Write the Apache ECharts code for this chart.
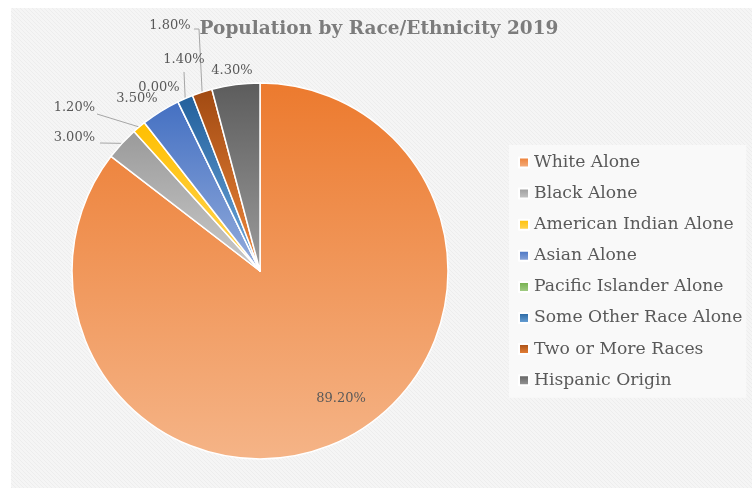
<!DOCTYPE html>
<html>
<head>
<meta charset="utf-8">
<script src="https://cdn.jsdelivr.net/npm/echarts@6/dist/echarts.min.js"></script>
<style>
  html, body { margin: 0; padding: 0; background: #ffffff; }
  #chart { width: 752px; height: 488px; }
</style>
</head>
<body>
<div id="chart"></div>
<script>
// Population shares by race / ethnicity, 2019 (percent)
const categories = [
  'White Alone',
  'Black Alone',
  'American Indian Alone',
  'Asian Alone',
  'Pacific Islander Alone',
  'Some Other Race Alone',
  'Two or More Races',
  'Hispanic Origin'
];
const shares = [89.2, 3.0, 1.2, 3.5, 0.0, 1.4, 1.8, 4.3];
const chartTitle = 'Population by Race/Ethnicity 2019';

// Slice fills: vertical gradients, darker at the top
const sliceGradients = [
  ['#ec7a2e', '#f5b487'],
  ['#9a9a9a', '#cacaca'],
  ['#ffbf00', '#ffd65c'],
  ['#4470c2', '#93acdc'],
  ['#6fac46', '#a9d18e'],
  ['#22609c', '#70a8dc'],
  ['#a14a12', '#f0883c'],
  ['#5c5c5c', '#9c9c9c']
];

// Hand-placed label spots (px) and optional leader-line bends
const labelSpots = [
  { x: 341, y: 399, align: 'center', line: false },
  { x: 95,  y: 138, align: 'right',  line: true, end: [100, 143] },
  { x: 95,  y: 108, align: 'right',  line: true, end: [97, 114] },
  { x: 137, y: 99,  align: 'center', line: false },
  { x: 159, y: 88,  align: 'center', line: false },
  { x: 184, y: 60,  align: 'center', line: true, end: [184, 72] },
  { x: 170, y: 26,  align: 'center', line: true, bend: [199, 29], end: [194, 29] },
  { x: 232, y: 71,  align: 'center', line: false }
];

const SERIF = 'DejaVu Serif';

// Fine diagonal hatch for the chart area
function hatchPattern() {
  const c = document.createElement('canvas');
  c.width = 4; c.height = 4;
  const g = c.getContext('2d');
  g.fillStyle = '#f5f5f5';
  g.fillRect(0, 0, 4, 4);
  g.fillStyle = '#ededed';
  for (let i = 0; i < 4; i++) g.fillRect(i, i, 1, 1);
  return c;
}

function grad(pair) {
  return new echarts.graphic.LinearGradient(0, 0, 0, 1, [
    { offset: 0, color: pair[0] },
    { offset: 1, color: pair[1] }
  ]);
}

const chart = echarts.init(document.getElementById('chart'), null, { renderer: 'canvas' });

const seriesData = categories.map((name, i) => ({
  name: name,
  value: shares[i],
  itemStyle: { color: grad(sliceGradients[i]) },
  labelLine: { show: labelSpots[i].line }
}));

chart.setOption({
  animation: false,
  backgroundColor: '#ffffff',
  textStyle: { fontFamily: SERIF },
  graphic: [{
    type: 'rect',
    z: -10,
    silent: true,
    shape: { x: 11, y: 8, width: 741, height: 480 },
    style: { fill: { image: hatchPattern(), repeat: 'repeat' } }
  }],
  title: {
    text: chartTitle,
    left: 374,
    top: 15,
    textAlign: 'center',
    textStyle: {
      fontFamily: SERIF,
      fontWeight: 'bold',
      fontSize: 18.5,
      color: '#7c7c7c'
    }
  },
  legend: {
    orient: 'vertical',
    left: 509,
    top: 145,
    padding: [9, 4, 9, 9],
    backgroundColor: '#f9f9f9',
    itemWidth: 10,
    itemHeight: 10,
    itemGap: 14.1,
    icon: 'rect',
    data: categories,
    textStyle: {
      fontFamily: SERIF,
      fontSize: 17.2,
      color: '#595959'
    }
  },
  series: [{
    type: 'pie',
    center: [260, 271],
    radius: 188,
    startAngle: 90,
    clockwise: true,
    avoidLabelOverlap: false,
    itemStyle: { borderColor: '#ffffff', borderWidth: 1.5 },
    label: {
      show: true,
      position: 'outside',
      formatter: p => p.value.toFixed(2) + '%',
      fontFamily: SERIF,
      fontSize: 13,
      color: '#595959'
    },
    labelLine: {
      show: true,
      lineStyle: { color: '#a6a6a6', width: 1 }
    },
    labelLayout: function (params) {
      const spot = labelSpots[params.dataIndex];
      const out = {
        x: spot.x,
        y: spot.y,
        align: spot.align,
        verticalAlign: 'middle'
      };
      if (spot.line && params.labelLinePoints) {
        const start = params.labelLinePoints[0];
        out.labelLinePoints = [start, spot.bend || start, spot.end];
      }
      return out;
    },
    data: seriesData
  }]
});
</script>
</body>
</html>
